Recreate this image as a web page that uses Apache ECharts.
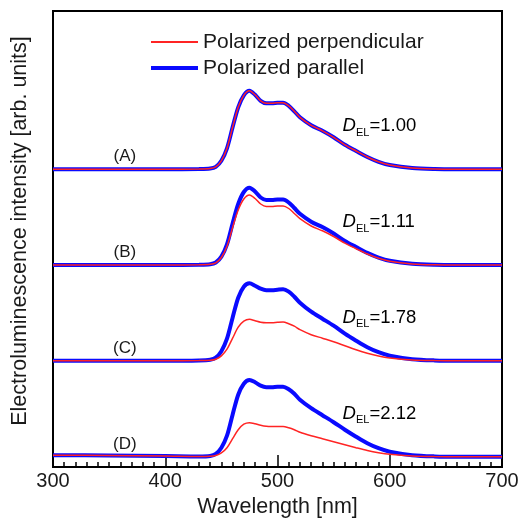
<!DOCTYPE html>
<html>
<head>
<meta charset="utf-8">
<script src="https://cdn.jsdelivr.net/npm/echarts@6/dist/echarts.min.js"></script>
<style>
  html, body { margin: 0; padding: 0; background: #fff; }
  #chart { width: 520px; height: 521px; }
</style>
</head>
<body>
<div id="chart"></div>
<script>
// wavelength grid (nm)
const wavelength = [300, 350, 400, 430, 440, 445, 450, 455, 460, 465, 470, 475, 480, 485, 490, 495, 500, 505, 510, 515, 520, 530, 540, 550, 560, 570, 580, 590, 600, 620, 640, 660, 680, 700];

// intensities above each curve's own baseline (arb. units)
const perpA = [0, 0, 0, 0.3, 0.8, 2.5, 8.5, 21, 42, 62, 74, 78.5, 74.5, 68.5, 66, 66, 66.5, 66.5, 63.5, 58, 52, 44, 38.5, 32, 24.5, 18.3, 12.3, 7.5, 4.3, 1.2, 0.2, 0, 0, 0];
const parA = [0, 0, 0, 0.3, 0.8, 2.5, 8.5, 21, 42, 62, 74, 78.6, 74.5, 68.5, 66, 66, 66.5, 66.6, 63.5, 58, 52, 44, 38.5, 32, 24.5, 18.3, 12.3, 7.5, 4.3, 1.2, 0.2, 0, 0, 0];
const perpB = [0, 0, 0, 0.3, 0.7, 2.2, 7.5, 18.7, 37.5, 55, 66, 70, 66.5, 61, 58.5, 58.5, 59, 59, 56.5, 51.5, 46.3, 39, 34.2, 28.5, 21.8, 16.3, 11, 6.7, 3.8, 1.1, 0.2, 0, 0, 0];
const parB = [0, 0, 0, 0.3, 0.8, 2.5, 8.4, 20.7, 41.5, 61, 73, 77.3, 73.5, 67.5, 65, 65, 65.5, 65.5, 62.5, 57, 51.2, 43.3, 37.9, 31.5, 24.1, 18, 12.1, 7.4, 4.2, 1.2, 0.2, 0, 0, 0];
const perpC = [0, 0, 0, 0.2, 0.5, 1.5, 4.8, 11.5, 22.5, 33.5, 39.5, 41.4, 40, 38.5, 38, 38, 38.5, 38.8, 37, 34.5, 31, 26, 22.5, 19, 15, 11, 7.5, 4.7, 2.8, 0.8, 0.2, 0, 0, 0];
const parC = [0, 0, 0, 0.3, 1, 3, 9.5, 22, 43, 63, 74, 77.4, 75, 72, 70.5, 70.5, 71, 71.4, 69, 64, 58, 49, 42, 35, 27, 20, 13.5, 8.5, 5, 1.5, 0.3, 0, 0, 0];
const perpD = [1.5, 1.2, 0.7, 0.2, 0.4, 1.2, 3.8, 9, 18, 27, 32.5, 34, 33, 31.5, 30.5, 30.3, 30.3, 30.3, 29, 27, 24.5, 21, 18, 15, 12, 9, 6.2, 4, 2.4, 0.7, 0.1, 0, 0, 0];
const parD = [1.5, 1.2, 0.7, 0.3, 0.8, 2.8, 9, 21, 42, 62, 73, 76.7, 74.5, 71, 69.5, 69.5, 70, 70, 67.5, 63, 57, 48.5, 41.5, 34.5, 27, 20, 13.5, 8.5, 5, 1.5, 0.3, 0, 0, 0];

// vertical offsets of the stacked spectra
const offsets = [297.7, 202, 106.3, 10.3];
const curveLabels = ['(A)', '(B)', '(C)', '(D)'];
const dichroicRatio = ['1.00', '1.11', '1.78', '2.12'];
const xTicks = [300, 400, 500, 600, 700];

const perpSets = [perpA, perpB, perpC, perpD];
const parSets = [parA, parB, parC, parD];

const FONT = '"Liberation Sans", Arial, sans-serif';
const RED = '#ff2424';
const BLUE = '#0a0aff';

function toPoints(vals, off) {
  return wavelength.map(function (w, i) { return [w, off + vals[i]]; });
}

const series = [];
offsets.forEach(function (off, k) {
  series.push({
    name: 'Polarized parallel',
    type: 'line',
    data: toPoints(parSets[k], off),
    symbol: 'none',
    smooth: 0.3,
    itemStyle: { color: BLUE },
    lineStyle: { color: BLUE, width: 4 },
    z: 2
  });
  series.push({
    name: 'Polarized perpendicular',
    type: 'line',
    data: toPoints(perpSets[k], off),
    symbol: 'none',
    smooth: 0.3,
    itemStyle: { color: RED },
    lineStyle: { color: RED, width: 1.5 },
    z: 3
  });
});

const chart = echarts.init(document.getElementById('chart'), null, { renderer: 'canvas' });

const option = {
  animation: false,
  backgroundColor: '#fff',
  grid: {
    left: 53, right: 18, top: 11, bottom: 54,
    outerBoundsMode: 'none',
    containLabel: false,
    show: true, borderColor: '#000', borderWidth: 2, backgroundColor: 'transparent'
  },
  legend: [
    {
      data: ['Polarized perpendicular'],
      left: 146, top: 26,
      icon: 'rect', itemWidth: 47, itemHeight: 2,
      textStyle: { fontFamily: FONT, fontSize: 21, color: '#1a1a1a', lineHeight: 22 }
    },
    {
      data: ['Polarized parallel'],
      left: 146, top: 52,
      icon: 'rect', itemWidth: 47, itemHeight: 4,
      textStyle: { fontFamily: FONT, fontSize: 21, color: '#1a1a1a', lineHeight: 22 }
    }
  ],
  xAxis: {
    type: 'value',
    min: 300, max: 700, interval: 100,
    name: 'Wavelength [nm]',
    nameLocation: 'middle',
    nameGap: 21,
    nameTextStyle: { fontFamily: FONT, fontSize: 21.5, color: '#1a1a1a' },
    axisLine: { show: true, lineStyle: { color: '#000', width: 2 } },
    axisTick: { show: true, inside: true, length: 12, lineStyle: { color: '#000', width: 1.5 } },
    minorTick: { show: true, splitNumber: 10, length: 5, lineStyle: { color: '#000', width: 1.5 } },
    axisLabel: {
      margin: 4, fontFamily: FONT, fontSize: 20, color: '#1a1a1a',
      formatter: function (v) { return xTicks.indexOf(v) >= 0 ? String(v) : ''; }
    },
    splitLine: { show: false }
  },
  yAxis: {
    type: 'value',
    min: 0, max: 456,
    name: 'Electroluminescence intensity [arb. units]',
    nameLocation: 'middle',
    nameGap: 22,
    nameTextStyle: { fontFamily: FONT, fontSize: 21.5, color: '#1a1a1a', padding: [0, 0, 0, 16] },
    axisLine: { show: true, lineStyle: { color: '#000', width: 2 } },
    axisTick: { show: false },
    axisLabel: { show: false },
    splitLine: { show: false }
  },
  series: series
};

chart.setOption(option);

// text annotations anchored to data coordinates
const graphics = [];
offsets.forEach(function (off, k) {
  const pLab = chart.convertToPixel({ gridIndex: 0 }, [364, off + 12.5]);
  graphics.push({
    type: 'text',
    x: pLab[0], y: pLab[1],
    style: {
      text: curveLabels[k],
      font: '17px ' + FONT,
      fill: '#1a1a1a',
      align: 'center',
      verticalAlign: 'middle'
    },
    z: 10
  });
  const pD = chart.convertToPixel({ gridIndex: 0 }, [558, off + 43]);
  graphics.push({
    type: 'text',
    x: pD[0], y: pD[1],
    style: {
      text: '{d|D}{s|EL}{v|=' + dichroicRatio[k] + '}',
      align: 'left',
      verticalAlign: 'middle',
      rich: {
        d: { fontFamily: FONT, fontSize: 18.5, fontStyle: 'italic', color: '#1a1a1a', lineHeight: 24, verticalAlign: 'middle' },
        s: { fontFamily: FONT, fontSize: 11, color: '#1a1a1a', lineHeight: 24, verticalAlign: 'bottom' },
        v: { fontFamily: FONT, fontSize: 18.5, color: '#1a1a1a', lineHeight: 24, verticalAlign: 'middle' }
      }
    },
    z: 10
  });
});
chart.setOption({ graphic: graphics });
</script>
</body>
</html>
